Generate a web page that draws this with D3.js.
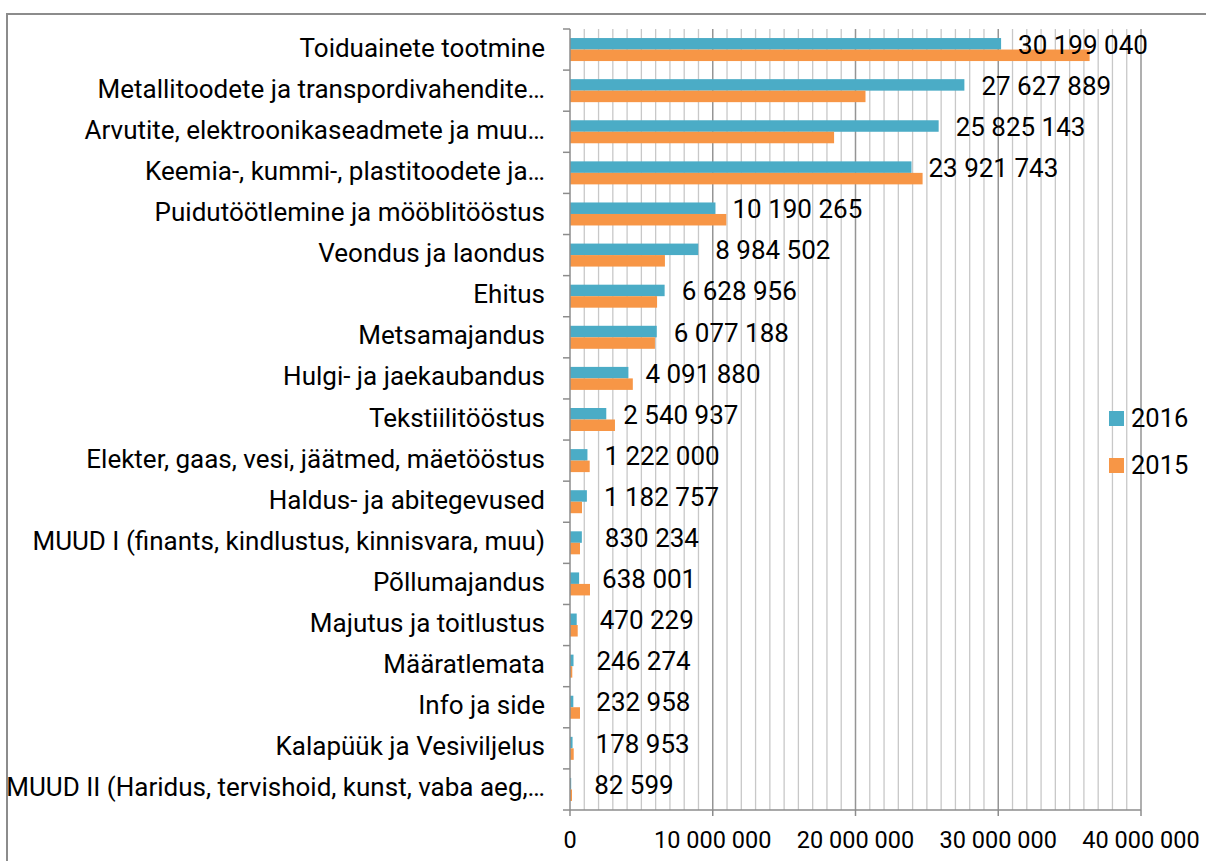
<!DOCTYPE html>
<html>
<head>
<meta charset="utf-8">
<script src="https://cdn.jsdelivr.net/npm/d3@7"></script>
<style>
  body { margin: 0; background: #fff; }
  svg { display: block; font-family: Roboto, "Noto Sans", sans-serif; }
</style>
</head>
<body>
<svg id="chart" width="1206" height="861"></svg>
<script>
// data
const categories = [
  "Toiduainete tootmine",
  "Metallitoodete ja transpordivahendite…",
  "Arvutite, elektroonikaseadmete ja muu…",
  "Keemia-, kummi-, plastitoodete ja…",
  "Puidutöötlemine ja mööblitööstus",
  "Veondus ja laondus",
  "Ehitus",
  "Metsamajandus",
  "Hulgi- ja jaekaubandus",
  "Tekstiilitööstus",
  "Elekter, gaas, vesi, jäätmed, mäetööstus",
  "Haldus- ja abitegevused",
  "MUUD I (finants, kindlustus, kinnisvara, muu)",
  "Põllumajandus",
  "Majutus ja toitlustus",
  "Määratlemata",
  "Info ja side",
  "Kalapüük ja Vesiviljelus",
  "MUUD II (Haridus, tervishoid, kunst, vaba aeg,…"
];
const values2016 = [30199040, 27627889, 25825143, 23921743, 10190265, 8984502, 6628956, 6077188,
  4091880, 2540937, 1222000, 1182757, 830234, 638001, 470229, 246274, 232958, 178953, 82599];
const values2015 = [36400000, 20700000, 18500000, 24700000, 10950000, 6650000, 6100000, 5950000,
  4400000, 3150000, 1380000, 840000, 700000, 1400000, 540000, 160000, 700000, 260000, 140000];
const seriesNames = ["2016", "2015"];
const colors = {"2016": "#4bacc6", "2015": "#f79646"};
const xTicks = [0, 10000000, 20000000, 30000000, 40000000];

/* Parameters and scales */
const svg = d3.select("#chart");
const plotLeft = 570, plotRight = 1141, plotTop = 29, plotBottom = 810;
const pairHeight = 23; // both bars of one category

const rows = categories.map((c, i) => ({cat: c, "2016": values2016[i], "2015": values2015[i]}));

const x = d3.scaleLinear().domain([0, 40000000]).range([plotLeft, plotRight]);
const y = d3.scaleBand().domain(categories).range([plotTop, plotBottom]);
const yInner = d3.scaleBand().domain(seriesNames).range([0, pairHeight]);

const fmt = v => d3.format(",")(v).replace(/,/g, " ");

// outer frame
svg.append("rect")
  .attr("x", 7).attr("y", 14)
  .attr("width", 1240).attr("height", 900)
  .attr("fill", "none").attr("stroke", "#8c8c8c").attr("stroke-width", 2);

// gridlines: minor every million, major every ten
const minor = d3.range(1000000, 40000001, 1000000).filter(v => v % 10000000 !== 0);
svg.append("g").selectAll("line").data(minor).join("line")
  .attr("x1", d => x(d)).attr("x2", d => x(d))
  .attr("y1", plotTop).attr("y2", plotBottom)
  .attr("stroke", "#c8c8c8").attr("stroke-width", 1.3);
svg.append("g").selectAll("line").data(xTicks.slice(1)).join("line")
  .attr("x1", d => x(d)).attr("x2", d => x(d))
  .attr("y1", plotTop).attr("y2", plotBottom)
  .attr("stroke", "#959595").attr("stroke-width", 1.5);

// bars
const barOffset = (y.bandwidth() - pairHeight) / 2;
const groups = svg.append("g").selectAll("g").data(rows).join("g")
  .attr("transform", d => `translate(0,${y(d.cat) + barOffset})`);
groups.selectAll("rect").data(d => seriesNames.map(s => ({s, v: d[s]}))).join("rect")
  .attr("x", x(0))
  .attr("y", d => yInner(d.s))
  .attr("width", d => x(d.v) - x(0))
  .attr("height", yInner.bandwidth())
  .attr("fill", d => colors[d.s]);

// value labels for 2016 (labels under a million sit a space further out)
svg.append("g").selectAll("text").data(rows).join("text")
  .attr("x", d => x(d["2016"]) + (d["2016"] < 1000000 ? 23 : 17))
  .attr("y", d => y(d.cat) + barOffset + yInner("2016") + yInner.bandwidth() / 2 + 1)
  .attr("dominant-baseline", "central")
  .attr("font-size", 26)
  .attr("fill", "#000")
  .text(d => fmt(d["2016"]));

// y axis
const yAxis = svg.append("g").attr("transform", `translate(${plotLeft},0)`);
yAxis.append("line").attr("x1", 0).attr("x2", 0).attr("y1", plotTop).attr("y2", plotBottom)
  .attr("stroke", "#8c8c8c").attr("stroke-width", 1.5);
yAxis.selectAll("line.tick").data(d3.range(categories.length + 1)).join("line")
  .attr("class", "tick")
  .attr("x1", -7).attr("x2", 0)
  .attr("y1", i => plotTop + i * y.step()).attr("y2", i => plotTop + i * y.step())
  .attr("stroke", "#8c8c8c").attr("stroke-width", 1.5);
yAxis.selectAll("text").data(categories).join("text")
  .attr("x", -25)
  .attr("y", d => y(d) + y.bandwidth() / 2 - 2)
  .attr("text-anchor", "end")
  .attr("dominant-baseline", "central")
  .attr("font-size", 26)
  .attr("fill", "#000")
  .text(d => d);

// x axis
const xAxis = svg.append("g").attr("transform", `translate(0,${plotBottom})`);
xAxis.append("line").attr("x1", plotLeft).attr("x2", plotRight)
  .attr("stroke", "#8c8c8c").attr("stroke-width", 1.5);
xAxis.selectAll("line.tick").data(xTicks).join("line")
  .attr("class", "tick")
  .attr("x1", d => x(d)).attr("x2", d => x(d))
  .attr("y1", 0).attr("y2", 6)
  .attr("stroke", "#8c8c8c").attr("stroke-width", 1.5);
xAxis.selectAll("text").data(xTicks).join("text")
  .attr("x", d => x(d))
  .attr("y", 30)
  .attr("text-anchor", "middle")
  .attr("dominant-baseline", "central")
  .attr("font-size", 23.5)
  .attr("fill", "#000")
  .text(d => fmt(d));

// legend
const legend = svg.append("g").selectAll("g").data(seriesNames).join("g")
  .attr("transform", (d, i) => `translate(1109,${411 + i * 47})`);
legend.append("rect").attr("width", 15).attr("height", 15)
  .attr("fill", d => colors[d]);
legend.append("text").attr("x", 22).attr("y", 7)
  .attr("dominant-baseline", "central")
  .attr("font-size", 25.5)
  .attr("fill", "#000")
  .text(d => d);
</script>
</body>
</html>
